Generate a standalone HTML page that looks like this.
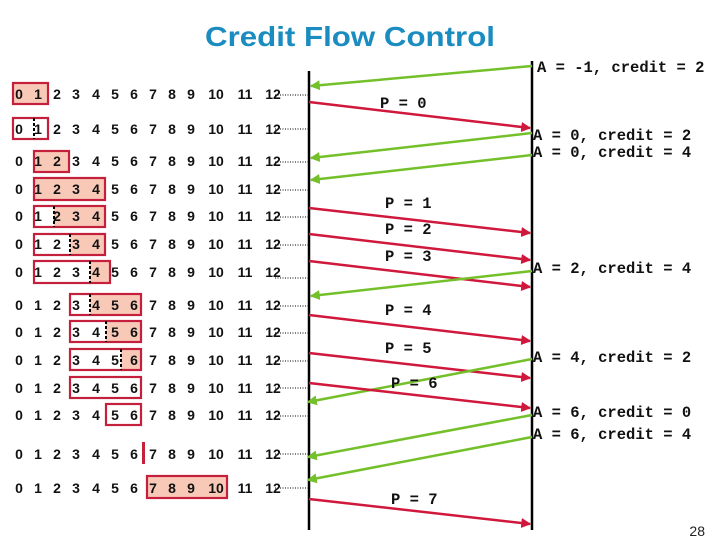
<!DOCTYPE html>
<html><head><meta charset="utf-8"><style>
html,body{margin:0;padding:0;background:#fff;}
svg{display:block}
.n{font-family:"Liberation Sans",sans-serif;font-size:14px;font-weight:bold;fill:#111;text-anchor:middle}
.m{font-family:"Liberation Mono",monospace;font-size:15.5px;font-weight:bold;fill:#111}
.b{fill:#f9c9b8;stroke:none}
.o{fill:none;stroke:#c4203c;stroke-width:2.2}
.d{stroke:#000;stroke-width:1;stroke-dasharray:1,1.5}
.k{stroke:#000;stroke-width:2;stroke-dasharray:3,2}
.r{stroke:#d0183c;stroke-width:2.5;marker-end:url(#ar)}
.g{stroke:#74c02a;stroke-width:2.5;marker-end:url(#ag)}
</style></head><body>
<svg width="720" height="540" xmlns="http://www.w3.org/2000/svg">
<defs>
<marker id="ar" markerWidth="4" markerHeight="4" refX="3.5" refY="2" orient="auto" markerUnits="strokeWidth"><path d="M0,0 L4,2 L0,4z" fill="#d0183c"/></marker>
<marker id="ag" markerWidth="4" markerHeight="4" refX="3.5" refY="2" orient="auto" markerUnits="strokeWidth"><path d="M0,0 L4,2 L0,4z" fill="#74c02a"/></marker>
</defs>
<text x="350" y="46" text-anchor="middle" font-family="Liberation Sans, sans-serif" font-weight="bold" font-size="28" fill="#1a8cc0" textLength="290" lengthAdjust="spacingAndGlyphs">Credit Flow Control</text>

<rect class="b" x="13" y="83" width="35" height="21"/><rect class="o" x="13" y="83" width="35" height="21"/>
<rect class="o" x="13" y="118" width="35" height="21"/><line class="k" x1="34" y1="118" x2="34" y2="139"/>
<rect class="b" x="34" y="151" width="35" height="21"/><rect class="o" x="34" y="151" width="35" height="21"/>
<rect class="b" x="34" y="178" width="71" height="22"/><rect class="o" x="34" y="178" width="71" height="22"/>
<rect class="b" x="54" y="206" width="51" height="21"/><rect class="o" x="34" y="206" width="71" height="21"/><line class="k" x1="54" y1="206" x2="54" y2="227"/>
<rect class="b" x="70" y="234" width="35" height="21"/><rect class="o" x="34" y="234" width="71" height="21"/><line class="k" x1="70" y1="234" x2="70" y2="255"/>
<rect class="b" x="90" y="261" width="20" height="22"/><rect class="o" x="34" y="261" width="76" height="22"/><line class="k" x1="90" y1="261" x2="90" y2="283"/>
<rect class="b" x="90" y="294" width="51" height="21"/><rect class="o" x="70" y="294" width="71" height="21"/><line class="k" x1="90" y1="294" x2="90" y2="315"/>
<rect class="b" x="106" y="321" width="35" height="21"/><rect class="o" x="70" y="321" width="71" height="21"/><line class="k" x1="106" y1="321" x2="106" y2="342"/>
<rect class="b" x="121" y="349" width="20" height="21"/><rect class="o" x="70" y="349" width="71" height="21"/><line class="k" x1="121" y1="349" x2="121" y2="370"/>
<rect class="o" x="70" y="377" width="71" height="21"/>
<rect class="o" x="106" y="404" width="35" height="21"/>
<rect x="142" y="442" width="3" height="22" fill="#c4203c"/>
<rect class="b" x="147" y="476" width="80" height="22"/><rect class="o" x="147" y="476" width="80" height="22"/>

<g>
<line class="d" x1="275" y1="95" x2="309" y2="95"/>
<line class="d" x1="275" y1="129" x2="309" y2="129"/>
<line class="d" x1="275" y1="162" x2="309" y2="162"/>
<line class="d" x1="275" y1="190" x2="309" y2="190"/>
<line class="d" x1="275" y1="217" x2="309" y2="217"/>
<line class="d" x1="275" y1="245" x2="309" y2="245"/>
<line class="d" x1="275" y1="278" x2="309" y2="278"/>
<line class="d" x1="275" y1="306" x2="309" y2="306"/>
<line class="d" x1="275" y1="333" x2="309" y2="333"/>
<line class="d" x1="275" y1="361" x2="309" y2="361"/>
<line class="d" x1="275" y1="388" x2="309" y2="388"/>
<line class="d" x1="275" y1="416" x2="309" y2="416"/>
<line class="d" x1="275" y1="454" x2="309" y2="454"/>
<line class="d" x1="275" y1="488" x2="309" y2="488"/>
</g>

<text class="n" y="99"><tspan x="19">0</tspan><tspan x="38">1</tspan><tspan x="57">2</tspan><tspan x="76">3</tspan><tspan x="96">4</tspan><tspan x="115">5</tspan><tspan x="134">6</tspan><tspan x="153">7</tspan><tspan x="172">8</tspan><tspan x="191">9</tspan><tspan x="216">10</tspan><tspan x="245">11</tspan><tspan x="273">12</tspan></text>
<text class="n" y="134"><tspan x="19">0</tspan><tspan x="38">1</tspan><tspan x="57">2</tspan><tspan x="76">3</tspan><tspan x="96">4</tspan><tspan x="115">5</tspan><tspan x="134">6</tspan><tspan x="153">7</tspan><tspan x="172">8</tspan><tspan x="191">9</tspan><tspan x="216">10</tspan><tspan x="245">11</tspan><tspan x="273">12</tspan></text>
<text class="n" y="166"><tspan x="19">0</tspan><tspan x="38">1</tspan><tspan x="57">2</tspan><tspan x="76">3</tspan><tspan x="96">4</tspan><tspan x="115">5</tspan><tspan x="134">6</tspan><tspan x="153">7</tspan><tspan x="172">8</tspan><tspan x="191">9</tspan><tspan x="216">10</tspan><tspan x="245">11</tspan><tspan x="273">12</tspan></text>
<text class="n" y="194"><tspan x="19">0</tspan><tspan x="38">1</tspan><tspan x="57">2</tspan><tspan x="76">3</tspan><tspan x="96">4</tspan><tspan x="115">5</tspan><tspan x="134">6</tspan><tspan x="153">7</tspan><tspan x="172">8</tspan><tspan x="191">9</tspan><tspan x="216">10</tspan><tspan x="245">11</tspan><tspan x="273">12</tspan></text>
<text class="n" y="221"><tspan x="19">0</tspan><tspan x="38">1</tspan><tspan x="57">2</tspan><tspan x="76">3</tspan><tspan x="96">4</tspan><tspan x="115">5</tspan><tspan x="134">6</tspan><tspan x="153">7</tspan><tspan x="172">8</tspan><tspan x="191">9</tspan><tspan x="216">10</tspan><tspan x="245">11</tspan><tspan x="273">12</tspan></text>
<text class="n" y="249"><tspan x="19">0</tspan><tspan x="38">1</tspan><tspan x="57">2</tspan><tspan x="76">3</tspan><tspan x="96">4</tspan><tspan x="115">5</tspan><tspan x="134">6</tspan><tspan x="153">7</tspan><tspan x="172">8</tspan><tspan x="191">9</tspan><tspan x="216">10</tspan><tspan x="245">11</tspan><tspan x="273">12</tspan></text>
<text class="n" y="277"><tspan x="19">0</tspan><tspan x="38">1</tspan><tspan x="57">2</tspan><tspan x="76">3</tspan><tspan x="96">4</tspan><tspan x="115">5</tspan><tspan x="134">6</tspan><tspan x="153">7</tspan><tspan x="172">8</tspan><tspan x="191">9</tspan><tspan x="216">10</tspan><tspan x="245">11</tspan><tspan x="273">12</tspan></text>
<text class="n" y="310"><tspan x="19">0</tspan><tspan x="38">1</tspan><tspan x="57">2</tspan><tspan x="76">3</tspan><tspan x="96">4</tspan><tspan x="115">5</tspan><tspan x="134">6</tspan><tspan x="153">7</tspan><tspan x="172">8</tspan><tspan x="191">9</tspan><tspan x="216">10</tspan><tspan x="245">11</tspan><tspan x="273">12</tspan></text>
<text class="n" y="337"><tspan x="19">0</tspan><tspan x="38">1</tspan><tspan x="57">2</tspan><tspan x="76">3</tspan><tspan x="96">4</tspan><tspan x="115">5</tspan><tspan x="134">6</tspan><tspan x="153">7</tspan><tspan x="172">8</tspan><tspan x="191">9</tspan><tspan x="216">10</tspan><tspan x="245">11</tspan><tspan x="273">12</tspan></text>
<text class="n" y="365"><tspan x="19">0</tspan><tspan x="38">1</tspan><tspan x="57">2</tspan><tspan x="76">3</tspan><tspan x="96">4</tspan><tspan x="115">5</tspan><tspan x="134">6</tspan><tspan x="153">7</tspan><tspan x="172">8</tspan><tspan x="191">9</tspan><tspan x="216">10</tspan><tspan x="245">11</tspan><tspan x="273">12</tspan></text>
<text class="n" y="393"><tspan x="19">0</tspan><tspan x="38">1</tspan><tspan x="57">2</tspan><tspan x="76">3</tspan><tspan x="96">4</tspan><tspan x="115">5</tspan><tspan x="134">6</tspan><tspan x="153">7</tspan><tspan x="172">8</tspan><tspan x="191">9</tspan><tspan x="216">10</tspan><tspan x="245">11</tspan><tspan x="273">12</tspan></text>
<text class="n" y="420"><tspan x="19">0</tspan><tspan x="38">1</tspan><tspan x="57">2</tspan><tspan x="76">3</tspan><tspan x="96">4</tspan><tspan x="115">5</tspan><tspan x="134">6</tspan><tspan x="153">7</tspan><tspan x="172">8</tspan><tspan x="191">9</tspan><tspan x="216">10</tspan><tspan x="245">11</tspan><tspan x="273">12</tspan></text>
<text class="n" y="459"><tspan x="19">0</tspan><tspan x="38">1</tspan><tspan x="57">2</tspan><tspan x="76">3</tspan><tspan x="96">4</tspan><tspan x="115">5</tspan><tspan x="134">6</tspan><tspan x="153">7</tspan><tspan x="172">8</tspan><tspan x="191">9</tspan><tspan x="216">10</tspan><tspan x="245">11</tspan><tspan x="273">12</tspan></text>
<text class="n" y="493"><tspan x="19">0</tspan><tspan x="38">1</tspan><tspan x="57">2</tspan><tspan x="76">3</tspan><tspan x="96">4</tspan><tspan x="115">5</tspan><tspan x="134">6</tspan><tspan x="153">7</tspan><tspan x="172">8</tspan><tspan x="191">9</tspan><tspan x="216">10</tspan><tspan x="245">11</tspan><tspan x="273">12</tspan></text>

<line x1="309" y1="71" x2="309" y2="530" stroke="#000" stroke-width="2.5"/>
<line x1="532" y1="61" x2="532" y2="530" stroke="#000" stroke-width="2.5"/>

<line class="g" x1="532" y1="66" x2="311" y2="86"/>
<line class="r" x1="309" y1="102" x2="530" y2="128"/>
<line class="g" x1="532" y1="133" x2="311" y2="158"/>
<line class="g" x1="532" y1="155" x2="311" y2="180"/>
<line class="r" x1="309" y1="208" x2="530" y2="233"/>
<line class="r" x1="309" y1="234" x2="530" y2="260"/>
<line class="r" x1="309" y1="261" x2="530" y2="287"/>
<line class="g" x1="532" y1="271" x2="311" y2="296"/>
<line class="r" x1="309" y1="315" x2="530" y2="341"/>
<line class="r" x1="309" y1="353" x2="530" y2="378"/>
<line class="g" x1="532" y1="359" x2="308" y2="402"/>
<line class="r" x1="309" y1="383" x2="530" y2="408"/>
<line class="g" x1="532" y1="415" x2="308" y2="457"/>
<line class="g" x1="532" y1="437" x2="308" y2="480"/>
<line class="r" x1="309" y1="499" x2="530" y2="524"/>

<text class="m" x="537" y="72">A = -1, credit = 2</text>
<text class="m" x="533" y="140">A = 0, credit = 2</text>
<text class="m" x="533" y="157">A = 0, credit = 4</text>
<text class="m" x="533" y="273">A = 2, credit = 4</text>
<text class="m" x="533" y="362">A = 4, credit = 2</text>
<text class="m" x="533" y="417">A = 6, credit = 0</text>
<text class="m" x="533" y="439">A = 6, credit = 4</text>
<text class="m" x="380" y="108">P = 0</text>
<text class="m" x="385" y="208">P = 1</text>
<text class="m" x="385" y="234">P = 2</text>
<text class="m" x="385" y="261">P = 3</text>
<text class="m" x="385" y="315">P = 4</text>
<text class="m" x="385" y="353">P = 5</text>
<text class="m" x="391" y="388">P = 6</text>
<text class="m" x="391" y="504">P = 7</text>
<text x="705" y="536" text-anchor="end" font-family="Liberation Sans, sans-serif" font-size="14" fill="#222">28</text>
</svg>
</body></html>
